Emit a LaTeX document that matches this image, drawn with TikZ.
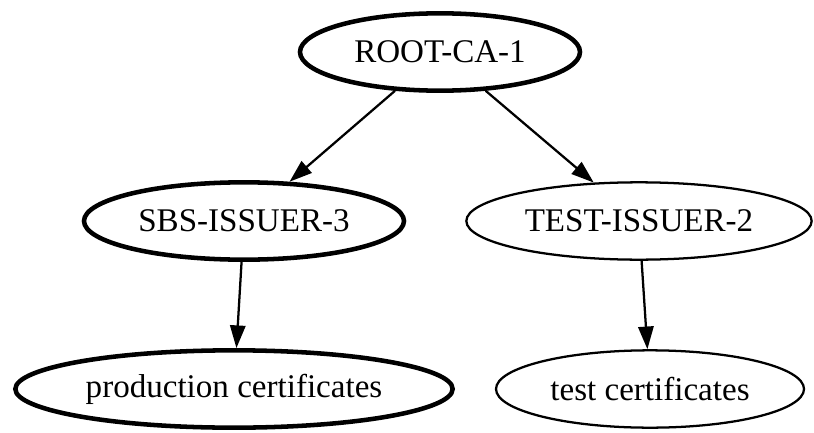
\documentclass[tikz,border=0pt]{standalone}
\usepackage{fontspec}
\setmainfont{Liberation Serif}
\usetikzlibrary{shapes.geometric, arrows.meta}

\begin{document}
\begin{tikzpicture}[
    x=0.75pt, y=-0.75pt,
    font=\fontsize{24.8}{30}\selectfont,
    >={Triangle[length=17pt, width=11.5pt]},
    ca/.style={draw, ellipse, inner sep=0pt, minimum height=58pt},
    boldca/.style={ca, line width=3.4pt},
    thinca/.style={ca, line width=1.7pt},
    arrow/.style={->, line width=1.7pt}
]
\useasboundingbox (0,0) rectangle (814,432);

% Nodes
\node[boldca, minimum width=210pt] (root) at (440, 52) {ROOT-CA-1};
\node[boldca, minimum width=240pt] (sbs) at (244, 221) {SBS-ISSUER-3};
\node[thinca, minimum width=259pt] (test) at (639, 221) {TEST-ISSUER-2};
\node[boldca, minimum width=328pt] (prod) at (234, 389) {production certificates};
\node[thinca, minimum width=231pt] (testcert) at (650, 389) {test certificates};

% Arrows
\draw[arrow] (root) -- (sbs);
\draw[arrow] (root) -- (test);
\draw[arrow] (sbs) -- (prod);
\draw[arrow] (test) -- (testcert);

\end{tikzpicture}
\end{document}
